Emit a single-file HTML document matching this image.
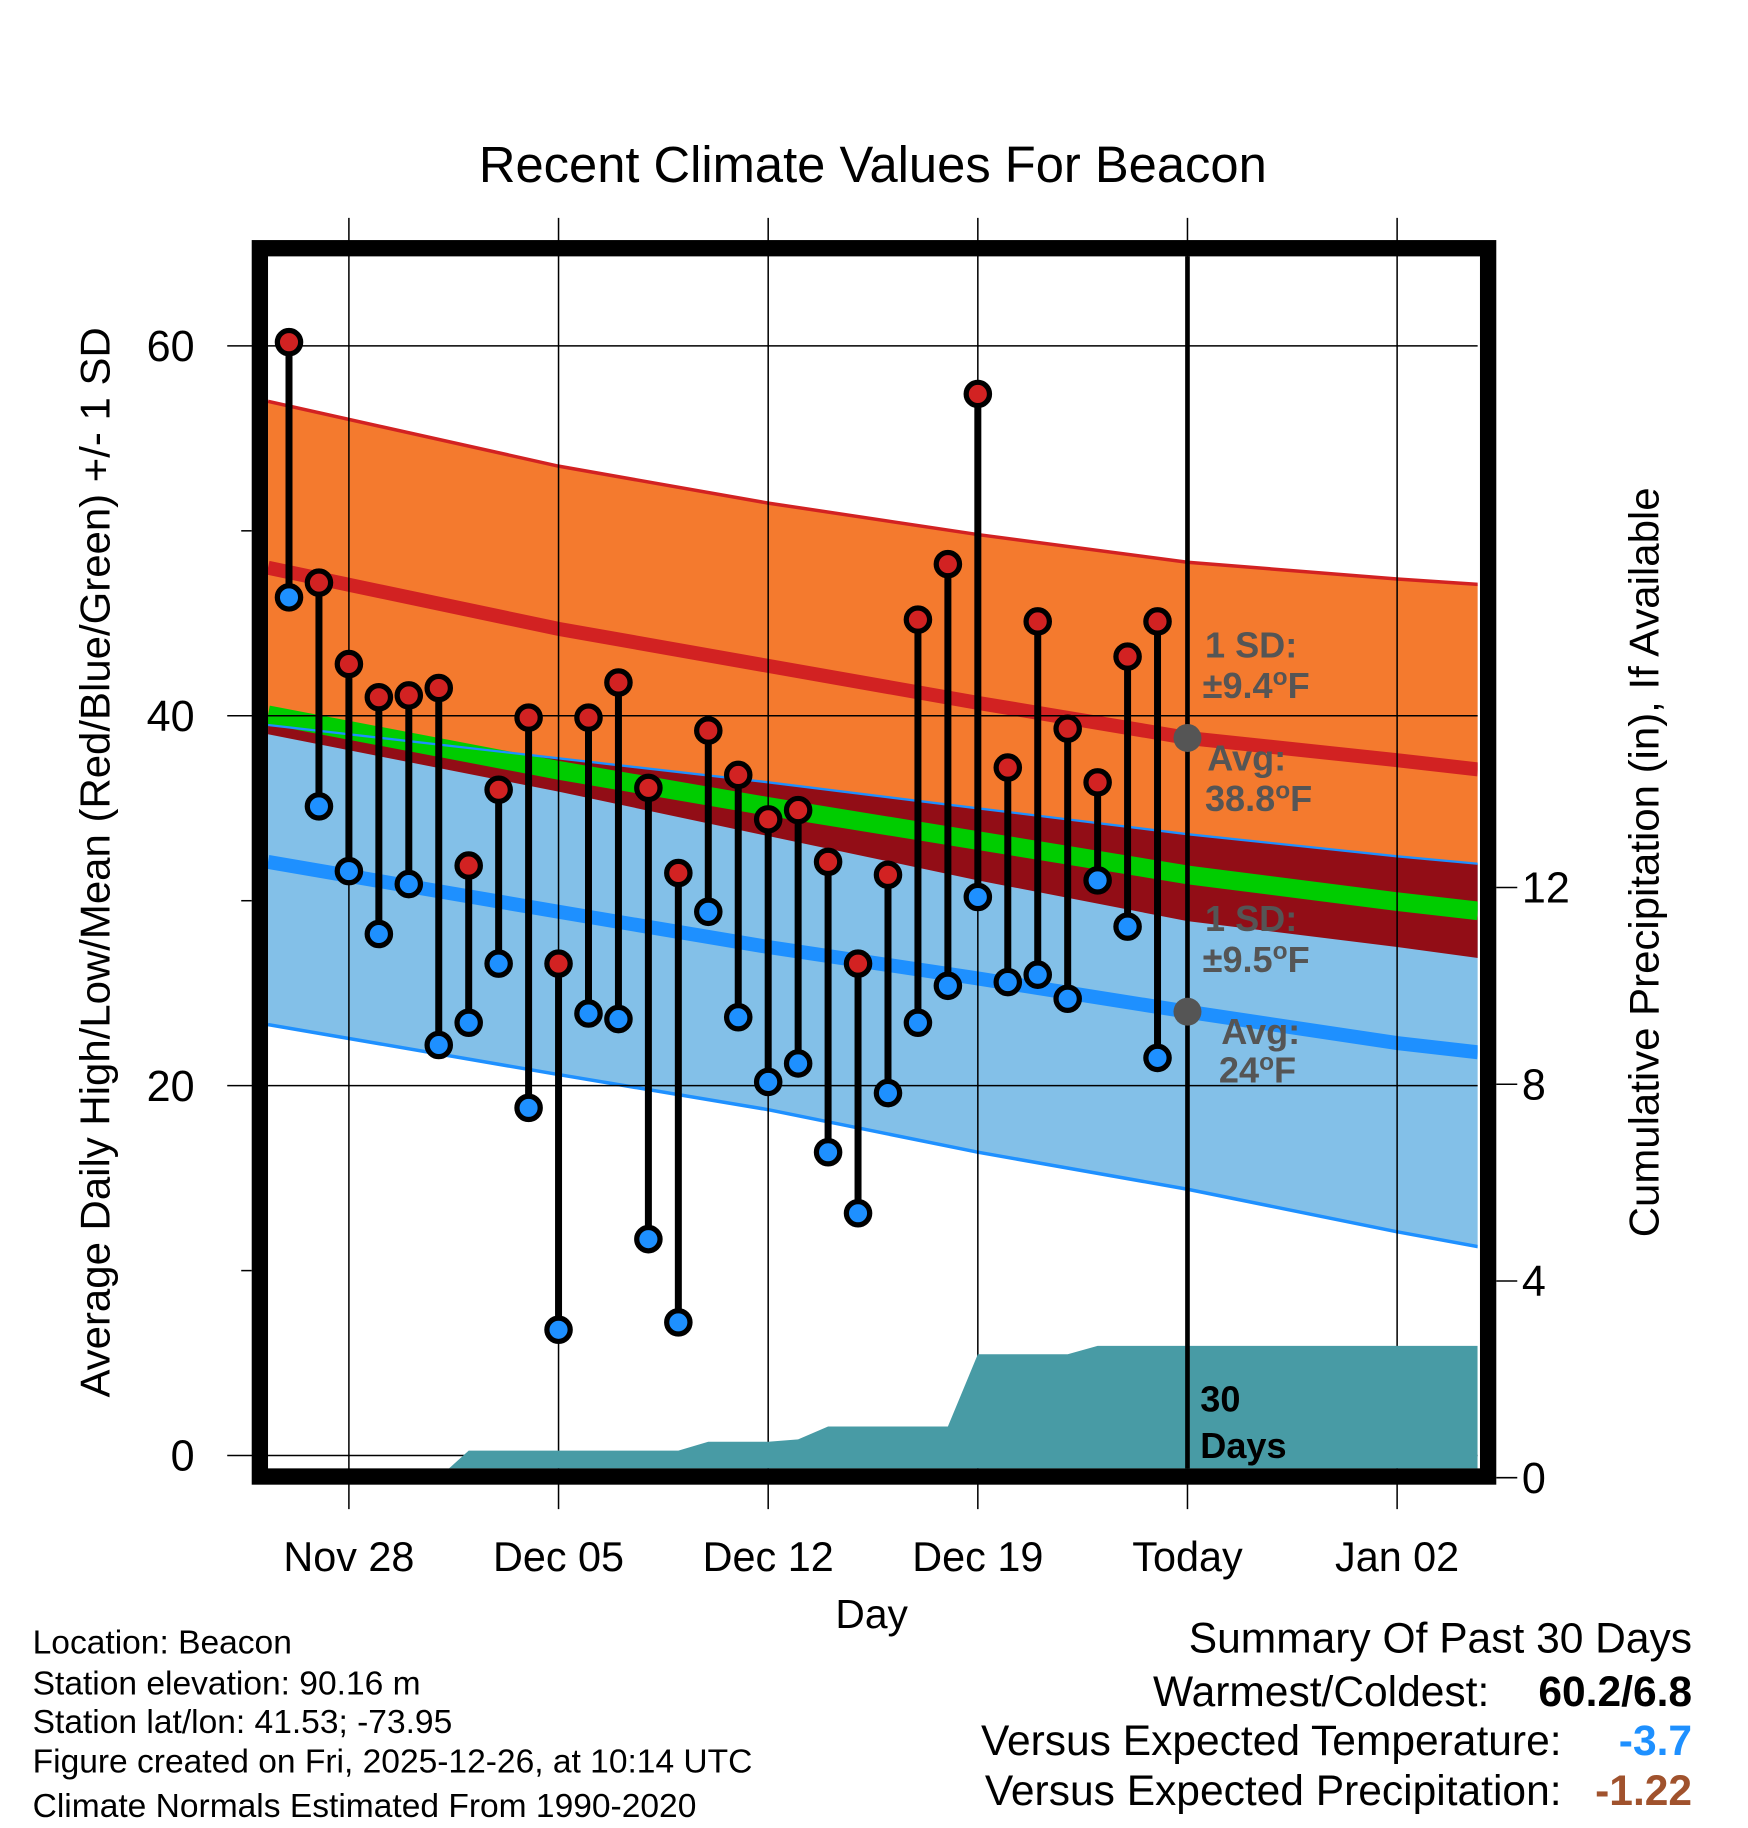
<!DOCTYPE html>
<html><head><meta charset="utf-8"><style>
html,body{margin:0;padding:0;background:#fff}
svg{display:block;font-family:"Liberation Sans",Arial,sans-serif}
</style></head><body>
<svg id="chart" width="1748" height="1828" viewBox="0 0 1500 1568.6" preserveAspectRatio="none" xmlns="http://www.w3.org/2000/svg">
<rect x="0" y="0" width="1500" height="1568.6" fill="#fff"/>
<text x="749" y="156" font-size="43.5" text-anchor="middle">Recent Climate Values For Beacon</text>
<g id="plot"></g>
<text transform="translate(94,740) rotate(-90)" font-size="36" text-anchor="middle">Average Daily High/Low/Mean (Red/Blue/Green) +/- 1 SD</text>
<text transform="translate(1423,740) rotate(-90)" font-size="36" text-anchor="middle">Cumulative Precipitation (in), If Available</text>
<text x="748" y="1397" font-size="35" text-anchor="middle">Day</text>
<g font-size="28.8">
<text x="28" y="1419">Location: Beacon</text>
<text x="28" y="1454">Station elevation: 90.16 m</text>
<text x="28" y="1487">Station lat/lon: 41.53; -73.95</text>
<text x="28" y="1521">Figure created on Fri, 2025-12-26, at 10:14 UTC</text>
<text x="28" y="1559">Climate Normals Estimated From 1990-2020</text>
</g>
<g font-size="36.5">
<text x="1452" y="1418" text-anchor="end">Summary Of Past 30 Days</text>
<text x="1278" y="1464" text-anchor="end">Warmest/Coldest:</text>
<text x="1452" y="1464" text-anchor="end" font-weight="bold">60.2/6.8</text>
<text x="1340" y="1506" text-anchor="end">Versus Expected Temperature:</text>
<text x="1452" y="1506" text-anchor="end" font-weight="bold" fill="#1e90ff">-3.7</text>
<text x="1340" y="1549" text-anchor="end">Versus Expected Precipitation:</text>
<text x="1452" y="1549" text-anchor="end" font-weight="bold" fill="#a0522d">-1.22</text>
</g>
</svg>
<script>
// observed data, day 0 = Nov 26
const highs=[60.2,47.2,42.8,41.0,41.1,41.5,31.9,36.0,39.9,26.6,39.9,41.8,36.1,31.5,39.2,36.8,34.4,34.9,32.1,26.6,31.4,45.2,48.2,57.4,37.2,45.1,39.3,36.4,43.2,45.1];
const lows=[46.4,35.1,31.6,28.2,30.9,22.2,23.4,26.6,18.8,6.8,23.9,23.6,11.7,7.2,29.4,23.7,20.2,21.2,16.4,13.1,19.6,23.4,25.4,30.2,25.6,26.0,24.7,31.1,28.6,21.5];
const precip=[0,0,0,0,0,0,0.55,0.55,0.55,0.55,0.55,0.55,0.55,0.55,0.73,0.73,0.73,0.78,1.04,1.04,1.04,1.04,1.04,2.51,2.51,2.51,2.51,2.68,2.68,2.68];
// normals at key days (day index relative to Nov 26)
const normDays=[-0.7,9,16,23,30,37,39.7];
const hiPlus=[57.0,53.5,51.5,49.8,48.3,47.4,47.1];
const hiMean=[48.0,44.7,42.7,40.7,38.8,37.6,37.1];
const hiMinus=[39.0,35.9,33.5,31.1,28.9,27.5,26.9];
const loPlus=[39.5,37.7,36.4,35.0,33.6,32.4,32.0];
const loMean=[32.1,29.4,27.5,25.8,24.0,22.3,21.8];
const loMinus=[23.3,20.6,18.7,16.4,14.4,12.1,11.3];
const xTickDays=[2,9,16,23,30,37];
const xTickLabels=["Nov 28","Dec 05","Dec 12","Dec 19","Today","Jan 02"];
const yTicks=[0,20,40,60];
const yMinor=[10,30,50];
const y2Ticks=[0,4,8,12];

const X0=230,X1=1268,Y0=220,Y1=1260;
const xs=d=>248+d*(1019-248)/30;
const ys=v=>1249-v*15.87;
const y2s=v=>1268-v*42.2;
const NS="http://www.w3.org/2000/svg";
const plot=document.getElementById('plot');
function el(t,a,p){const e=document.createElementNS(NS,t);for(const k in a)e.setAttribute(k,a[k]);(p||plot).appendChild(e);return e;}
function pts(arr){return normDays.map((d,i)=>xs(d).toFixed(1)+','+ys(arr[i]).toFixed(1));}
function band(top,bot,fill,name){
 const p=pts(top).concat(pts(bot).reverse());
 const e=el('polygon',{points:p.join(' '),fill:fill});
 
 
}
function line(arr,col,w,name){
 const e=el('polyline',{points:pts(arr).join(' '),fill:'none',stroke:col,'stroke-width':w});
 
 
}
const clip=el('clipPath',{id:'pc'});el('rect',{x:X0,y:Y0,width:X1-X0,height:Y1-Y0},clip);
const g=el('g',{'clip-path':'url(#pc)'});
band(hiPlus,loPlus,'#f47a2e','high-sd-band');
band(loPlus,loMinus,'#83c0e8','low-sd-band');
band(loPlus,hiMinus,'#920d16','overlap-band');
const meanArr=hiMean.map((v,i)=>(v+loMean[i])/2);
line(meanArr,'#00cc00',16,'mean-line');
line(hiMean,'#d22222',12,'high-normal-line');
line(loMean,'#1e90ff',12,'low-normal-line');
line(hiPlus,'#d22222',3,'high-plus-sd-line');
line(loPlus,'#1e90ff',2,'low-plus-sd-line');
line(loMinus,'#1e90ff',3,'low-minus-sd-line');
Array.from(plot.querySelectorAll('polygon,polyline')).forEach(n=>g.appendChild(n));
// gridlines
xTickDays.forEach((d,i)=>{
 const e=el('line',{x1:xs(d),x2:xs(d),y1:187,y2:1295,stroke:'#000','stroke-width':1.3});
 
 
 const t=el('text',{x:xs(d),y:1348,'font-size':35.5,'text-anchor':'middle'});t.textContent=xTickLabels[i];
 
 
});
yTicks.forEach(v=>{
 const e=el('line',{x1:195,x2:X1,y1:ys(v),y2:ys(v),stroke:'#000','stroke-width':1.3});
 
 
 const t=el('text',{x:167,y:ys(v)+13,'font-size':37,'text-anchor':'end'});t.textContent=v;
 
 
});
yMinor.forEach(v=>{const e=el('line',{x1:207,x2:216,y1:ys(v),y2:ys(v),stroke:'#000','stroke-width':1.3});
 
 });
y2Ticks.forEach(v=>{
 const e=el('line',{x1:1284,x2:1302,y1:y2s(v),y2:y2s(v),stroke:'#000','stroke-width':1.3});
 
 
 const t=el('text',{x:1306,y:y2s(v)+13,'font-size':37});t.textContent=v;
 
 
});
// precipitation area
let pp=[[X0,y2s(0)]];
precip.forEach((v,i)=>{pp.push([xs(i),y2s(v)]);});
pp.push([X1,y2s(precip[precip.length-1])]);pp.push([X1,Y1+20]);pp.push([X0,Y1+20]);
const pa=el('polygon',{points:pp.map(p=>p[0].toFixed(1)+','+p[1].toFixed(1)).join(' '),fill:'#489ba5','clip-path':'url(#pc)'});


// stems & dots
highs.forEach((h,i)=>{
 const s=el('line',{x1:xs(i),x2:xs(i),y1:ys(h),y2:ys(lows[i]),stroke:'#000','stroke-width':6});
 
 
});
highs.forEach((h,i)=>{
 const c=el('circle',{cx:xs(i),cy:ys(h),r:10,fill:'#d22222',stroke:'#000','stroke-width':4.5});
 
 
 const c2=el('circle',{cx:xs(i),cy:ys(lows[i]),r:10,fill:'#1e90ff',stroke:'#000','stroke-width':4.5});
 
 
});
// today line
const tl=el('line',{x1:xs(30),x2:xs(30),y1:Y0,y2:Y1,stroke:'#000','stroke-width':4});


const d1=el('circle',{cx:xs(30),cy:ys(hiMean[4]),r:12,fill:'#555'});


const d2=el('circle',{cx:xs(30),cy:ys(loMean[4]),r:12,fill:'#555'});


function lab(x,y,txt,col,name){const t=el('text',{x:x,y:y,'font-size':31,'font-weight':'bold',fill:col});t.innerHTML=txt;
 
 }
lab(1034,564,'1 SD:','#555','high-sd-label');
lab(1032,599,'±9.4<tspan dy="-11" font-size="21">o</tspan><tspan dy="11">F</tspan>','#555','high-sd-value');
lab(1036,661,'Avg:','#555','high-avg-label');
lab(1034,696,'38.8<tspan dy="-11" font-size="21">o</tspan><tspan dy="11">F</tspan>','#555','high-avg-value');
lab(1034,799,'1 SD:','#555','low-sd-label');
lab(1032,834,'±9.5<tspan dy="-11" font-size="21">o</tspan><tspan dy="11">F</tspan>','#555','low-sd-value');
lab(1048,896,'Avg:','#555','low-avg-label');
lab(1046,929,'24<tspan dy="-11" font-size="21">o</tspan><tspan dy="11">F</tspan>','#555','low-avg-value');
lab(1030,1211,'30','#000','days-label');
lab(1030,1251,'Days','#000','days-label-2');
// frame
const fr=el('rect',{x:223,y:213,width:1054,height:1054,fill:'none',stroke:'#000','stroke-width':14});


</script>
</body></html>
